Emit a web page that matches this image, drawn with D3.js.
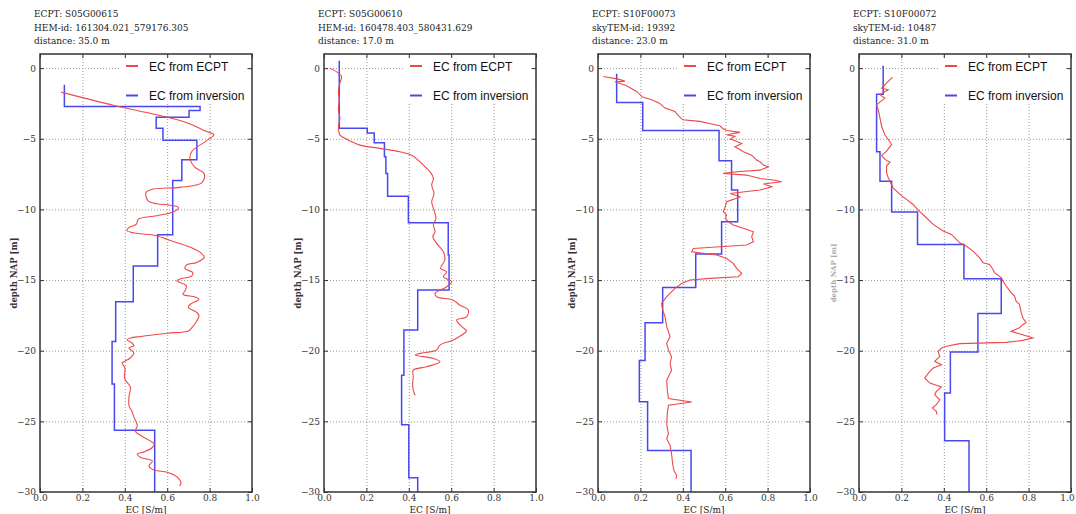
<html>
<head>
<meta charset="utf-8">
<script src="https://d3js.org/d3.v7.min.js"></script>
<style>
  body { margin: 0; background: #fff; }
  .tick text { font-family: "DejaVu Serif", serif; font-size: 9px; fill: #333; }
  .grid line { stroke: #999; stroke-dasharray: 1,2; }
</style>
</head>
<body>
<svg id="chart" width="1076" height="514"></svg>
<script>
// header lines for each panel
var headers = [
  ["ECPT: S05G00615", "HEM-id: 161304.021_579176.305", "distance: 35.0 m"],
  ["ECPT: S05G00610", "HEM-id: 160478.403_580431.629", "distance: 17.0 m"],
  ["ECPT: S10F00073", "skyTEM-id: 19392", "distance: 23.0 m"],
  ["ECPT: S10F00072", "skyTEM-id: 10487", "distance: 31.0 m"]
];
var seriesNames = ["EC from ECPT", "EC from inversion"];
var xTicks = [0, 0.2, 0.4, 0.6, 0.8, 1.0];
var yTicks = [0, -5, -10, -15, -20, -25, -30];

// EC from ECPT: [EC (S/m), depth NAP (m)]
var ecpt1 = [[0.10,-1.70],[0.35,-2.65],[0.55,-3.3],[0.70,-3.9],[0.78,-4.45],[0.82,-4.72],[0.79,-5.1],[0.716,-5.9],[0.708,-6.45],[0.73,-7.0],[0.775,-7.5],[0.764,-8.1],[0.66,-8.44],[0.534,-8.56],[0.50,-8.8],[0.51,-9.4],[0.55,-9.6],[0.614,-9.7],[0.653,-9.86],[0.63,-10.17],[0.55,-10.45],[0.463,-10.7],[0.455,-11.04],[0.42,-11.27],[0.41,-11.5],[0.44,-11.65],[0.55,-11.86],[0.614,-12.2],[0.69,-12.57],[0.756,-13.04],[0.775,-13.4],[0.74,-13.75],[0.69,-13.94],[0.685,-14.2],[0.72,-14.46],[0.716,-14.7],[0.66,-14.93],[0.645,-15.05],[0.69,-15.4],[0.685,-15.75],[0.674,-16.0],[0.732,-16.2],[0.75,-16.35],[0.71,-16.7],[0.70,-16.93],[0.74,-17.3],[0.75,-17.52],[0.735,-18.0],[0.72,-18.3],[0.70,-18.6],[0.60,-18.76],[0.475,-18.99],[0.427,-19.1],[0.41,-19.23],[0.434,-19.46],[0.443,-19.65],[0.42,-19.8],[0.443,-20.16],[0.427,-20.5],[0.40,-20.75],[0.388,-20.87],[0.40,-21.2],[0.40,-22.0],[0.427,-22.6],[0.42,-23.2],[0.42,-23.9],[0.434,-24.3],[0.443,-24.7],[0.459,-25.3],[0.45,-25.7],[0.475,-26.0],[0.538,-26.6],[0.53,-26.85],[0.49,-27.16],[0.459,-27.3],[0.475,-27.56],[0.53,-27.8],[0.514,-28.15],[0.53,-28.4],[0.554,-28.5],[0.60,-28.6],[0.649,-28.97],[0.665,-29.44],[0.657,-29.55]];
var ecpt2 = [[0.028,0.0],[0.068,-0.35],[0.083,-0.6],[0.075,-1.06],[0.068,-1.65],[0.072,-2.24],[0.068,-2.95],[0.075,-3.54],[0.068,-4.13],[0.075,-4.72],[0.107,-5.02],[0.17,-5.45],[0.264,-5.68],[0.358,-5.92],[0.413,-6.16],[0.453,-6.63],[0.484,-7.1],[0.50,-7.33],[0.516,-7.8],[0.508,-8.28],[0.519,-8.87],[0.508,-9.46],[0.519,-10.05],[0.528,-10.64],[0.516,-11.1],[0.524,-11.58],[0.513,-11.93],[0.531,-12.4],[0.563,-13.0],[0.57,-13.58],[0.55,-14.17],[0.579,-14.41],[0.563,-14.76],[0.602,-15.12],[0.579,-15.47],[0.524,-15.94],[0.531,-16.18],[0.61,-16.42],[0.64,-16.77],[0.68,-17.12],[0.673,-17.6],[0.626,-17.83],[0.65,-18.3],[0.672,-18.6],[0.65,-18.89],[0.61,-19.24],[0.547,-19.6],[0.531,-19.95],[0.453,-20.19],[0.43,-20.3],[0.516,-20.55],[0.547,-20.78],[0.484,-21.14],[0.421,-21.37],[0.421,-21.85],[0.418,-22.32],[0.421,-22.8],[0.43,-23.15]];
var ecpt3 = [[0.025,-0.59],[0.096,-0.78],[0.127,-0.92],[0.08,-0.97],[0.135,-1.25],[0.182,-1.65],[0.21,-2.05],[0.253,-2.24],[0.29,-2.48],[0.316,-2.83],[0.363,-3.07],[0.379,-3.37],[0.40,-3.66],[0.48,-3.77],[0.536,-3.96],[0.575,-4.08],[0.587,-4.25],[0.607,-4.41],[0.67,-4.55],[0.607,-4.72],[0.646,-4.83],[0.623,-5.02],[0.638,-5.09],[0.678,-5.33],[0.646,-5.56],[0.686,-5.92],[0.725,-6.16],[0.748,-6.51],[0.764,-6.63],[0.78,-6.86],[0.803,-6.98],[0.764,-7.22],[0.654,-7.33],[0.59,-7.45],[0.70,-7.57],[0.764,-7.81],[0.827,-7.92],[0.866,-8.04],[0.78,-8.2],[0.82,-8.39],[0.764,-8.63],[0.693,-8.75],[0.623,-8.87],[0.67,-9.1],[0.638,-9.29],[0.607,-9.46],[0.60,-9.81],[0.591,-10.17],[0.607,-10.4],[0.60,-10.64],[0.615,-10.87],[0.638,-11.1],[0.686,-11.34],[0.733,-11.58],[0.725,-11.93],[0.733,-12.29],[0.701,-12.52],[0.575,-12.64],[0.45,-12.76],[0.442,-13.0],[0.497,-13.11],[0.56,-13.23],[0.607,-13.47],[0.638,-13.82],[0.654,-14.17],[0.678,-14.53],[0.662,-14.76],[0.528,-14.88],[0.434,-15.0],[0.395,-15.24],[0.363,-15.59],[0.324,-16.18],[0.30,-16.65],[0.305,-17.12],[0.316,-17.59],[0.324,-18.3],[0.34,-19.0],[0.324,-19.48],[0.332,-19.95],[0.347,-20.43],[0.34,-20.9],[0.347,-21.37],[0.324,-22.09],[0.327,-22.8],[0.332,-23.39],[0.442,-23.63],[0.332,-23.86],[0.327,-24.45],[0.324,-25.17],[0.332,-25.88],[0.324,-26.23],[0.34,-26.7],[0.347,-27.3],[0.352,-28.0],[0.358,-28.48],[0.371,-28.84],[0.368,-29.07]];
var ecpt4 = [[0.158,-0.64],[0.13,-1.06],[0.107,-1.42],[0.138,-1.53],[0.099,-1.89],[0.122,-2.12],[0.083,-2.6],[0.091,-2.95],[0.099,-3.54],[0.107,-4.13],[0.122,-4.72],[0.138,-5.05],[0.154,-5.4],[0.13,-5.87],[0.107,-6.18],[0.122,-6.46],[0.146,-6.65],[0.13,-6.93],[0.13,-7.4],[0.138,-7.76],[0.146,-8.0],[0.161,-8.47],[0.193,-8.94],[0.224,-9.29],[0.255,-9.65],[0.279,-10.05],[0.318,-10.59],[0.35,-11.06],[0.397,-11.53],[0.436,-11.77],[0.451,-12.0],[0.475,-12.36],[0.506,-12.59],[0.538,-12.95],[0.569,-13.42],[0.585,-13.77],[0.616,-13.89],[0.632,-14.25],[0.639,-14.48],[0.671,-14.83],[0.679,-15.07],[0.694,-15.42],[0.718,-15.9],[0.734,-16.13],[0.741,-16.49],[0.757,-16.72],[0.765,-17.31],[0.773,-17.67],[0.788,-18.02],[0.773,-18.14],[0.757,-18.37],[0.718,-18.63],[0.757,-18.8],[0.82,-19.1],[0.773,-19.27],[0.694,-19.41],[0.475,-19.5],[0.412,-19.69],[0.389,-19.81],[0.373,-20.05],[0.381,-20.4],[0.357,-20.75],[0.389,-20.99],[0.35,-21.23],[0.334,-21.46],[0.31,-21.93],[0.334,-22.29],[0.389,-22.57],[0.365,-22.88],[0.357,-23.11],[0.381,-23.47],[0.365,-23.82],[0.346,-24.06],[0.365,-24.29],[0.368,-24.53]];

// EC from inversion: top of first layer, layer bottoms and layer EC
var invTop = [-1.18, 0.52, -0.4, 0.17];
var invBottom1 = [-2.71,-3.0,-3.47,-4.25,-5.1,-6.49,-7.95,-11.8,-14.0,-16.53,-19.34,-22.35,-25.63,-30];
var invEc1     = [0.115,0.755,0.703,0.548,0.58,0.74,0.669,0.626,0.555,0.44,0.357,0.34,0.351,0.541];
var invBottom2 = [-4.25,-4.6,-5.28,-6.27,-7.45,-9.06,-10.94,-13.23,-15.7,-18.54,-21.73,-25.24,-29.0,-30];
var invEc2     = [0.072,0.204,0.237,0.285,0.292,0.30,0.398,0.586,0.59,0.442,0.377,0.366,0.40,0.442];
var invBottom3 = [-2.43,-4.41,-6.56,-8.63,-10.87,-13.16,-15.52,-18.02,-20.7,-23.62,-27.06,-30];
var invEc3     = [0.088,0.211,0.571,0.63,0.659,0.583,0.461,0.305,0.222,0.195,0.234,0.439];
var invBottom4 = [-1.84,-5.92,-8.0,-10.19,-12.48,-14.9,-17.36,-20.1,-23.0,-26.37,-30];
var invEc4     = [0.114,0.083,0.099,0.154,0.276,0.495,0.671,0.561,0.431,0.404,0.519];

var ecptData = [ecpt1, ecpt2, ecpt3, ecpt4];
var invBottoms = [invBottom1, invBottom2, invBottom3, invBottom4];
var invEcs = [invEc1, invEc2, invEc3, invEc4];

var panelLeft = [40, 324, 598, 859];
var panelW = 212;
var panelTop = 54, panelBottom = 492;
var red = "#f04848", blue = "#4848f0";

var svg = d3.select("#chart");

function stepPoints(top, bottoms, ecs) {
  var pts = [], t = top;
  for (var i = 0; i < ecs.length; i++) {
    pts.push([ecs[i], t]);
    pts.push([ecs[i], bottoms[i]]);
    t = bottoms[i];
  }
  return pts;
}

panelLeft.forEach(function(left, p) {
  var x = d3.scaleLinear().domain([0, 1]).range([left, left + panelW]);
  var y = d3.scaleLinear().domain([1, -30]).range([panelTop, panelBottom]);
  var g = svg.append("g");

  // header
  g.selectAll(".hdr").data(headers[p]).enter().append("text")
    .attr("x", left - 6)
    .attr("y", function(d, i) { return 17 + i * 13.5; })
    .style("font-family", "DejaVu Serif, serif")
    .style("font-size", "9px")
    .style("fill", "#222")
    .text(function(d) { return d; });

  // grid
  g.append("g").attr("class", "grid")
    .attr("transform", "translate(0," + panelBottom + ")")
    .call(d3.axisBottom(x).tickValues([0.2, 0.4, 0.6, 0.8]).tickSize(-(panelBottom - panelTop)).tickFormat(""))
    .call(function(s) { s.select(".domain").remove(); });
  g.append("g").attr("class", "grid")
    .attr("transform", "translate(" + left + ",0)")
    .call(d3.axisLeft(y).tickValues([0, -5, -10, -15, -20, -25]).tickSize(-panelW).tickFormat(""))
    .call(function(s) { s.select(".domain").remove(); });

  // legend background
  g.append("rect")
    .attr("x", left + 80).attr("y", panelTop + 5)
    .attr("width", 127).attr("height", 45)
    .attr("fill", "#fff");

  // inversion steps
  var line = d3.line().x(function(d) { return x(d[0]); }).y(function(d) { return y(d[1]); });
  g.append("path")
    .datum(stepPoints(invTop[p], invBottoms[p], invEcs[p]))
    .attr("d", line)
    .attr("fill", "none").attr("stroke", blue).attr("stroke-width", 1.5);

  // ECPT curve
  var ecLine = d3.line().x(function(d) { return x(d[0]); }).y(function(d) { return y(d[1]); })
    .curve(p < 2 ? d3.curveCatmullRom.alpha(0.5) : d3.curveLinear);
  g.append("path")
    .datum(ecptData[p])
    .attr("d", ecLine)
    .attr("fill", "none").attr("stroke", red).attr("stroke-width", 1.1);

  // axes with inward ticks
  g.append("g").attr("transform", "translate(" + left + ",0)")
    .call(d3.axisLeft(y).tickValues(yTicks).tickSizeInner(-4).tickSizeOuter(0).tickPadding(4).tickFormat(d3.format("d")))
    .call(function(s) { s.select(".domain").remove(); s.selectAll("line").attr("stroke", "#333"); });
  g.append("g").attr("transform", "translate(" + (left + panelW) + ",0)")
    .call(d3.axisRight(y).tickValues(yTicks).tickSizeInner(-4).tickSizeOuter(0).tickFormat(""))
    .call(function(s) { s.select(".domain").remove(); s.selectAll("line").attr("stroke", "#333"); });
  var bx = g.append("g").attr("transform", "translate(0," + panelBottom + ")")
    .call(d3.axisBottom(x).tickValues(xTicks).tickSizeInner(-4).tickSizeOuter(0).tickPadding(3).tickFormat(d3.format(".1f")))
    .call(function(s) { s.select(".domain").remove(); s.selectAll("line").attr("stroke", "#333"); });
  if (p === 3) {
    // keep the last label inside the window
    bx.selectAll(".tick text").filter(function(d) { return d === 1; }).attr("dx", "-4");
  }
  g.append("g").attr("transform", "translate(0," + panelTop + ")")
    .call(d3.axisTop(x).tickValues(xTicks).tickSizeInner(-4).tickSizeOuter(0).tickFormat(""))
    .call(function(s) { s.select(".domain").remove(); s.selectAll("line").attr("stroke", "#333"); });

  // frame
  g.append("rect")
    .attr("x", left).attr("y", panelTop)
    .attr("width", panelW).attr("height", panelBottom - panelTop)
    .attr("fill", "none").attr("stroke", "#333").attr("stroke-width", 1.5);

  // legend
  [red, blue].forEach(function(c, i) {
    var ly = 66 + i * 29.5;
    g.append("line")
      .attr("x1", left + 86).attr("x2", left + 98)
      .attr("y1", ly).attr("y2", ly)
      .attr("stroke", c).attr("stroke-width", 2);
    g.append("text")
      .attr("x", left + 109).attr("y", ly + 4.5)
      .style("font-family", "Liberation Sans, Arial, sans-serif")
      .style("font-size", "12px")
      .style("fill", "#111")
      .text(seriesNames[i]);
  });

  // axis titles
  g.append("text")
    .attr("x", left + panelW / 2).attr("y", 513)
    .attr("text-anchor", "middle")
    .style("font-family", "DejaVu Serif, serif")
    .style("font-size", "9px")
    .style("fill", "#222")
    .text("EC [S/m]");
  g.append("text")
    .attr("transform", "translate(" + (left - 23) + "," + ((panelTop + panelBottom) / 2) + ") rotate(-90)")
    .attr("text-anchor", "middle")
    .style("font-family", "DejaVu Serif, serif")
    .style("font-size", p === 3 ? "7px" : "8.5px")
    .style("font-weight", "bold")
    .style("fill", p === 3 ? "#aaa" : "#333")
    .text("depth NAP [m]");
});
</script>
</body>
</html>
